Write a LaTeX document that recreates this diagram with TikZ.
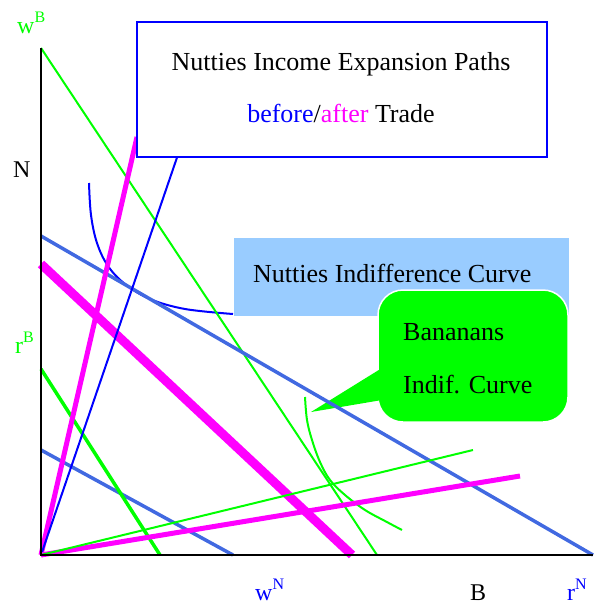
\documentclass[tikz,border=0pt]{standalone}
\usepackage{fontspec}
\setmainfont{Liberation Serif}
\definecolor{rblue}{RGB}{65,105,225}
\definecolor{lblue}{RGB}{153,204,255}
\definecolor{grn}{RGB}{0,255,0}
\definecolor{mag}{RGB}{255,0,255}
\definecolor{pblue}{RGB}{0,0,255}
\newcommand{\supB}[1]{\raisebox{11pt}{\fontsize{16}{16}\selectfont #1}}
\tikzset{
  lbl/.style={inner sep=0pt, anchor=base west, font=\fontsize{24}{24}\selectfont},
  txt/.style={inner sep=0pt, font=\fontsize{26}{26}\selectfont},
  axis/.style={black, line width=2pt},
  thinline/.style={line width=2pt},
  midline/.style={line width=3.5pt},
  fatline/.style={line width=9pt},
  magline/.style={line width=5pt, mag},
}
\begin{document}
\begin{tikzpicture}[x=1pt,y=-1pt]
\useasboundingbox (0,0) rectangle (603,606);
% coordinates
\coordinate (O) at (41,555);
\coordinate (Ytop) at (41,48);
\coordinate (Xend) at (593,555);
\coordinate (gA1) at (41,48);   \coordinate (gA2) at (377,555);
\coordinate (bA1) at (41,236);  \coordinate (bA2) at (593,555);
\coordinate (bB1) at (41,450);  \coordinate (bB2) at (233,555);
\coordinate (gB1) at (41,369);  \coordinate (gB2) at (160,555);
\coordinate (mA1) at (41,264);  \coordinate (mA2) at (352,555);
\coordinate (mS) at (137,137);
\coordinate (pS) at (183,140);
\coordinate (mF) at (520,476);
\coordinate (gF) at (473,450);
\coordinate (tip) at (311,412);
\coordinate (pu) at (382,368);
\coordinate (pl) at (382,400);

% light blue box
\node[fill=lblue, minimum width=335pt, minimum height=78pt, inner sep=0pt] (ibox) at (401.5,277) {};
\node[txt, anchor=base west] (itext) at (253,282) {Nutties Indifference Curve};

% green callout
\node[fill=grn, draw=white, line width=1.5pt, rounded corners=25pt, minimum width=190pt, minimum height=132pt, inner sep=0pt] (call) at (473,356) {};
\fill[grn] (pu) -- (tip) -- (pl) -- cycle;
\node[txt, anchor=base west] (ban) at (403,340) {Bananans};
\node[txt, anchor=base west] (ind) at (403,393) {Indif. Curve};

% indifference curves
\draw[pblue, line width=2pt] plot[smooth, tension=0.6] coordinates {(89,183) (91,215) (97,243) (108,266) (125,284) (150,299) (185,309) (233,314)};
\draw[grn, line width=2pt] plot[smooth, tension=0.6] coordinates {(305,397) (307,420) (312,440) (320,462) (330,480) (345,495) (365,510) (385,521) (402,530)};

% budget lines
\draw[grn, thinline] (gA1) -- (gA2);
\draw[rblue, midline] (bA1) -- (bA2);
\draw[rblue, midline] (bB1) -- (bB2);
\draw[grn, midline] (gB1) -- (gB2);
\draw[mag, fatline] (mA1) -- (mA2);
% expansion paths
\draw[magline] (O) -- (mS);
\draw[pblue, thinline] (O) -- (pS);
\draw[magline] (O) -- (mF);
\draw[grn, thinline] (O) -- (gF);

% axes
\draw[axis] (Ytop) -- (O) -- (Xend);

% title box
\node[draw=pblue, fill=white, line width=1.5pt, minimum width=410pt, minimum height=135pt, inner sep=0pt] (tbox) at (342,89.5) {};
\node[txt, anchor=base] (t1) at (341,70) {Nutties Income Expansion Paths};
\node[txt, anchor=base] (t2) at (341,122) {\textcolor{pblue}{before}/\textcolor{mag}{after} Trade};

% axis labels
\node[lbl, text=grn] (wB) at (17,33) {w\supB{B}};
\node[lbl] (N) at (13,177) {N};
\node[lbl, text=grn] (rB) at (15,353) {r\supB{B}};
\node[lbl, text=pblue] (wN) at (255,600) {w\supB{N}};
\node[lbl] (Bl) at (470,600) {B};
\node[lbl, text=pblue] (rN) at (567,600) {r\supB{N}};
\end{tikzpicture}
\end{document}
